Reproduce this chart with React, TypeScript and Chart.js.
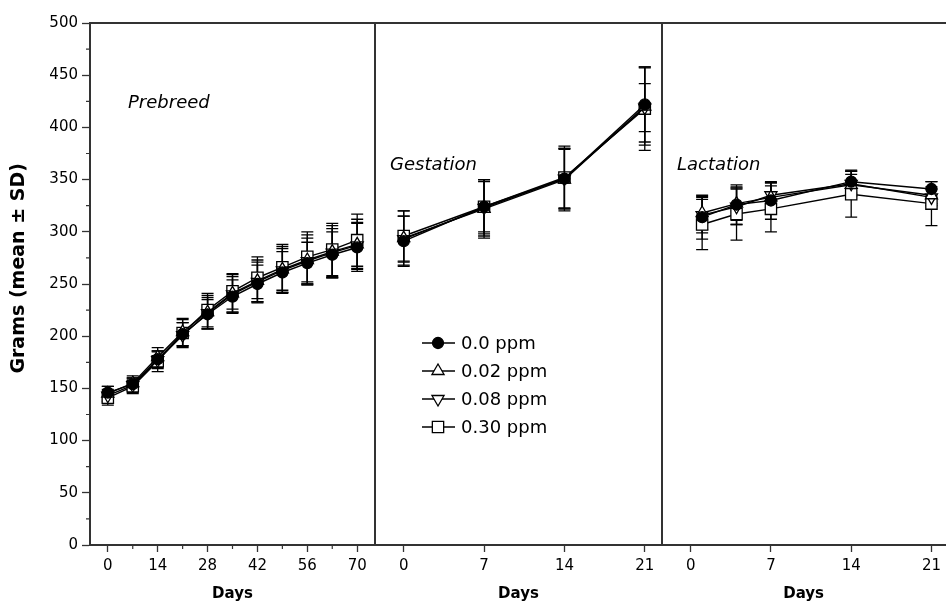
import React, { useEffect, useRef } from "react";
import { Chart, registerables } from "chart.js";

Chart.register(...registerables);

// ---------- text ----------
const seriesLabels = ["0.0 ppm", "0.02 ppm", "0.08 ppm", "0.30 ppm"];
const panelTitles = ["Prebreed", "Gestation", "Lactation"];
const xAxisTitle = "Days";
const yAxisTitle = "Grams (mean ± SD)";

// ---------- y axis ----------
const yTicks = [0, 50, 100, 150, 200, 250, 300, 350, 400, 450, 500];
const yMinorTicks = [25, 75, 125, 175, 225, 275, 325, 375, 425, 475];

// ---------- Prebreed ----------
const prebreedDays = [0, 7, 14, 21, 28, 35, 42, 49, 56, 63, 70];
const prebreedTicks = [0, 14, 28, 42, 56, 70];
const prebreedMinorTicks = [7, 21, 35, 49, 63];
const prebreedMean00 = [146, 154, 178, 202, 221, 238, 250, 261, 270, 278, 285];
const prebreedMean002 = [145, 155, 180, 204, 223, 241, 253, 264, 273, 281, 288];
const prebreedMean008 = [143, 153, 177, 201, 222, 240, 252, 263, 272, 280, 287];
const prebreedMean030 = [141, 152, 176, 203, 225, 243, 256, 266, 276, 283, 292];
const prebreedSd00 = [6, 6, 8, 11, 14, 16, 18, 20, 20, 22, 23];
const prebreedSd002 = [7, 7, 9, 13, 16, 18, 20, 22, 24, 25, 24];
const prebreedSd008 = [6, 7, 8, 12, 15, 17, 19, 21, 22, 23, 22];
const prebreedSd030 = [7, 7, 10, 13, 16, 17, 20, 22, 24, 25, 25];

// ---------- Gestation ----------
const gestationDays = [0, 7, 14, 21];
const gestationTicks = [0, 7, 14, 21];
const gestationMean00 = [291, 324, 351, 422];
const gestationMean002 = [294, 322, 350, 420];
const gestationMean008 = [293, 323, 351, 419];
const gestationMean030 = [296, 324, 352, 418];
const gestationSd00 = [24, 26, 29, 36];
const gestationSd002 = [26, 28, 30, 37];
const gestationSd008 = [22, 27, 28, 23];
const gestationSd030 = [24, 24, 30, 40];

// ---------- Lactation ----------
const lactationDays = [1, 4, 7, 14, 21];
const lactationTicks = [0, 7, 14, 21];
const lactationMean00 = [314, 326, 330, 348, 341];
const lactationMean002 = [318, 327, 333, 345, 335];
const lactationMean008 = [316, 324, 335, 346, 333];
const lactationMean030 = [307, 317, 322, 336, 327];
const lactationSd00 = [21, 19, 18, 11, 7];
const lactationSd002 = [16, 16, 14, 10, 8];
const lactationSd008 = [17, 17, 12, 12, 8];
const lactationSd030 = [24, 25, 22, 22, 21];

// ---------- styles ----------
const FONT = '"DejaVu Sans", Verdana, sans-serif';
const AXIS_COLOR = "#333";
const pointStyles = ["circle", "triangle", "triangle", "rect"];
const pointRotations = [0, 0, 180, 0];
const pointRadii = [5.5, 7, 7, 8];
const pointFills = ["#000", "#fff", "#fff", "#fff"];

type PanelDef = {
  days: number[];
  means: number[][];
  sds: number[][];
  ticks: number[];
  minorTicks: number[];
  xMin: number;
  xMax: number;
  title: string;
  titleDx: number;
  titleY: number;
  showY: boolean;
  showLegend: boolean;
  drawRight: boolean;
  padRight: number;
};

const panels: PanelDef[] = [
  {
    days: prebreedDays,
    means: [prebreedMean00, prebreedMean002, prebreedMean008, prebreedMean030],
    sds: [prebreedSd00, prebreedSd002, prebreedSd008, prebreedSd030],
    ticks: prebreedTicks,
    minorTicks: prebreedMinorTicks,
    xMin: -5,
    xMax: 75,
    title: panelTitles[0],
    titleDx: 38,
    titleY: 103,
    showY: true,
    showLegend: false,
    drawRight: true,
    padRight: 3,
  },
  {
    days: gestationDays,
    means: [gestationMean00, gestationMean002, gestationMean008, gestationMean030],
    sds: [gestationSd00, gestationSd002, gestationSd008, gestationSd030],
    ticks: gestationTicks,
    minorTicks: [],
    xMin: -2.5,
    xMax: 22.5,
    title: panelTitles[1],
    titleDx: 15,
    titleY: 165,
    showY: false,
    showLegend: true,
    drawRight: true,
    padRight: 3,
  },
  {
    days: lactationDays,
    means: [lactationMean00, lactationMean002, lactationMean008, lactationMean030],
    sds: [lactationSd00, lactationSd002, lactationSd008, lactationSd030],
    ticks: lactationTicks,
    minorTicks: [],
    xMin: -2.5,
    xMax: 22.2,
    title: panelTitles[2],
    titleDx: 15,
    titleY: 165,
    showY: false,
    showLegend: false,
    drawRight: false,
    padRight: 0,
  },
];

function drawMarker(ctx: CanvasRenderingContext2D, i: number, x: number, y: number) {
  const r = pointRadii[i];
  ctx.save();
  ctx.fillStyle = pointFills[i];
  ctx.strokeStyle = "#000";
  ctx.lineWidth = 1.3;
  ctx.beginPath();
  const style = pointStyles[i];
  if (style === "circle") {
    ctx.arc(x, y, r, 0, Math.PI * 2);
  } else if (style === "rect") {
    const s = r * Math.SQRT1_2;
    ctx.rect(x - s, y - s, 2 * s, 2 * s);
  } else {
    let rad = (pointRotations[i] * Math.PI) / 180;
    ctx.moveTo(x + Math.sin(rad) * r, y - Math.cos(rad) * r);
    rad += (2 * Math.PI) / 3;
    ctx.lineTo(x + Math.sin(rad) * r, y - Math.cos(rad) * r);
    rad += (2 * Math.PI) / 3;
    ctx.lineTo(x + Math.sin(rad) * r, y - Math.cos(rad) * r);
    ctx.closePath();
  }
  ctx.fill();
  ctx.stroke();
  ctx.restore();
}

function makeDecorPlugin(p: PanelDef) {
  return {
    id: "panelDecor",
    beforeDatasetsDraw(chart: any) {
      const ctx: CanvasRenderingContext2D = chart.ctx;
      const ys = chart.scales.y;
      ctx.save();
      ctx.strokeStyle = "#000";
      ctx.lineWidth = 1.3;
      chart.data.datasets.forEach((ds: any, i: number) => {
        const meta = chart.getDatasetMeta(i);
        meta.data.forEach((el: any, j: number) => {
          const v = ds.data[j].y;
          const sd = ds.sd[j];
          const t = ys.getPixelForValue(v + sd);
          const b = ys.getPixelForValue(v - sd);
          ctx.beginPath();
          ctx.moveTo(el.x, t);
          ctx.lineTo(el.x, b);
          ctx.moveTo(el.x - 6, t);
          ctx.lineTo(el.x + 6, t);
          ctx.moveTo(el.x - 6, b);
          ctx.lineTo(el.x + 6, b);
          ctx.stroke();
        });
      });
      ctx.restore();
    },
    afterDraw(chart: any) {
      const ctx: CanvasRenderingContext2D = chart.ctx;
      const a = chart.chartArea;
      const xs = chart.scales.x;
      const ys = chart.scales.y;
      ctx.save();
      // frame
      ctx.strokeStyle = AXIS_COLOR;
      ctx.lineWidth = 2;
      ctx.beginPath();
      ctx.moveTo(a.left - (p.showY ? 1 : 0), a.top);
      ctx.lineTo(a.right + 1, a.top);
      if (p.drawRight) {
        ctx.moveTo(a.right, a.top);
        ctx.lineTo(a.right, a.bottom);
      }
      ctx.stroke();
      // minor ticks
      ctx.lineWidth = 1.2;
      ctx.beginPath();
      p.minorTicks.forEach((v) => {
        const px = xs.getPixelForValue(v);
        ctx.moveTo(px, a.bottom);
        ctx.lineTo(px, a.bottom + 4);
      });
      if (p.showY) {
        yMinorTicks.forEach((v) => {
          const py = ys.getPixelForValue(v);
          ctx.moveTo(a.left - 4, py);
          ctx.lineTo(a.left, py);
        });
      }
      ctx.stroke();
      // y axis title
      if (p.showY) {
        ctx.save();
        ctx.fillStyle = "#000";
        ctx.font = `bold 19px ${FONT}`;
        ctx.textAlign = "center";
        ctx.textBaseline = "middle";
        ctx.translate(19, ys.getPixelForValue(265));
        ctx.rotate(-Math.PI / 2);
        ctx.fillText(yAxisTitle, 0, 0);
        ctx.restore();
      }
      // panel title
      ctx.fillStyle = "#000";
      ctx.font = `italic 18px ${FONT}`;
      ctx.textAlign = "left";
      ctx.textBaseline = "middle";
      ctx.fillText(p.title, a.left + p.titleDx, p.titleY);
      // legend
      if (p.showLegend) {
        ctx.font = `18px ${FONT}`;
        seriesLabels.forEach((lab, i) => {
          const ly = 343 + i * 28;
          const lx = a.left + 47;
          ctx.strokeStyle = "#000";
          ctx.lineWidth = 1.3;
          ctx.beginPath();
          ctx.moveTo(lx, ly);
          ctx.lineTo(lx + 33, ly);
          ctx.stroke();
          drawMarker(ctx, i, lx + 16, ly);
          ctx.fillStyle = "#000";
          ctx.fillText(lab, lx + 39, ly + 1);
        });
      }
      ctx.restore();
    },
  };
}

function makeChart(canvas: HTMLCanvasElement, p: PanelDef) {
  const datasets = seriesLabels.map((label, i) => ({
    label,
    data: p.days.map((d, j) => ({ x: d, y: p.means[i][j] })),
    sd: p.sds[i],
    borderColor: "#000",
    borderWidth: 1.4,
    pointStyle: pointStyles[i],
    pointRotation: pointRotations[i],
    pointRadius: pointRadii[i],
    pointBackgroundColor: pointFills[i],
    pointBorderColor: "#000",
    pointBorderWidth: 1.3,
    tension: 0,
    fill: false,
  }));
  const yScale: any = {
    type: "linear",
    min: 0,
    max: 500,
    display: p.showY,
    afterBuildTicks: (s: any) => {
      s.ticks = yTicks.map((v) => ({ value: v }));
    },
    grid: {
      display: true,
      drawOnChartArea: false,
      drawTicks: true,
      tickLength: 8,
      tickColor: AXIS_COLOR,
      tickWidth: 1.3,
    },
    border: { display: true, color: AXIS_COLOR, width: 2 },
    ticks: { font: { family: FONT, size: 15 }, color: "#000", padding: 4 },
    title: { display: false },
  };
  if (p.showY) {
    yScale.afterFit = (s: any) => {
      s.width = 90;
    };
  }
  return new Chart(canvas, {
    type: "line",
    data: { datasets } as any,
    options: {
      animation: false,
      responsive: false,
      maintainAspectRatio: false,
      events: [],
      layout: { autoPadding: false, padding: { top: 23, right: p.padRight, left: 0, bottom: 0 } },
      plugins: { legend: { display: false }, tooltip: { enabled: false } },
      scales: {
        x: {
          type: "linear",
          min: p.xMin,
          max: p.xMax,
          afterFit: (s: any) => {
            s.height = 60;
          },
          afterBuildTicks: (s: any) => {
            s.ticks = p.ticks.map((v) => ({ value: v }));
          },
          grid: {
            display: true,
            drawOnChartArea: false,
            drawTicks: true,
            tickLength: 7,
            tickColor: AXIS_COLOR,
            tickWidth: 1.3,
          },
          border: { display: true, color: AXIS_COLOR, width: 2 },
          ticks: {
            font: { family: FONT, size: 15 },
            color: "#000",
            padding: 5,
            maxRotation: 0,
            autoSkip: false,
          },
          title: {
            display: true,
            text: xAxisTitle,
            color: "#000",
            font: { family: FONT, size: 15, weight: "bold" },
            padding: { top: 0, bottom: 2 },
          },
        },
        y: yScale,
      },
    } as any,
    plugins: [makeDecorPlugin(p)],
  });
}

function PanelCanvas({ p, left, width }: { p: PanelDef; left: number; width: number }) {
  const ref = useRef<HTMLCanvasElement>(null);
  useEffect(() => {
    if (!ref.current) return;
    const c = makeChart(ref.current, p);
    return () => c.destroy();
  }, []);
  return (
    <canvas
      ref={ref}
      width={width}
      height={605}
      style={{ position: "absolute", left, top: 0, width, height: 605, display: "block" }}
    />
  );
}

export default function App() {
  return (
    <div
      style={{
        position: "absolute",
        left: 0,
        top: 0,
        width: 946,
        height: 605,
        overflow: "hidden",
        background: "#fff",
      }}
    >
      <PanelCanvas p={panels[0]} left={0} width={378} />
      <PanelCanvas p={panels[1]} left={375} width={290} />
      <PanelCanvas p={panels[2]} left={662} width={284} />
    </div>
  );
}
